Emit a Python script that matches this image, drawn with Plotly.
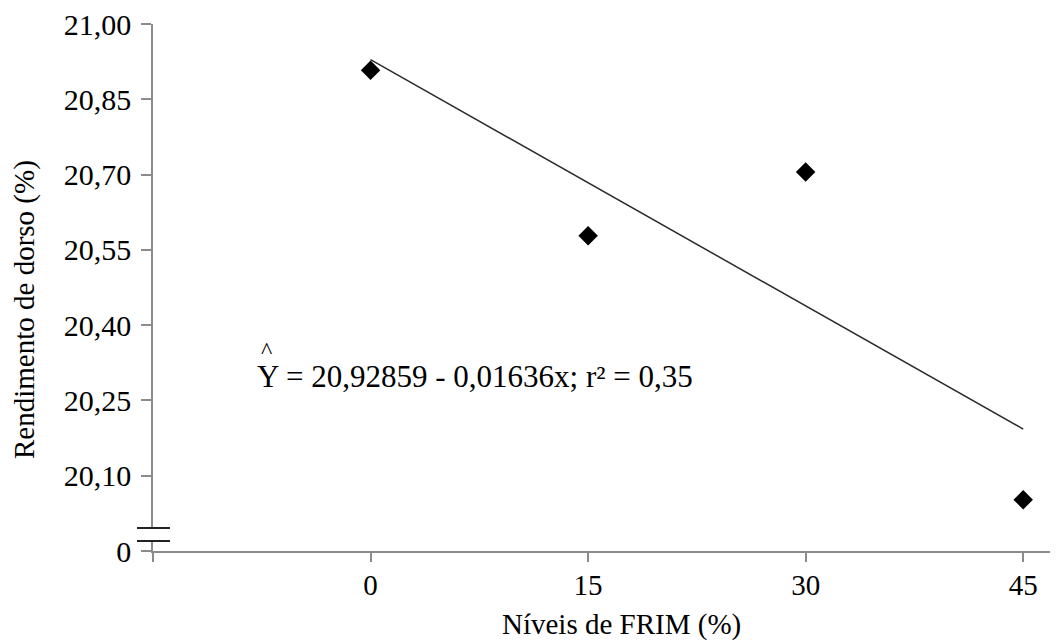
import plotly.graph_objects as go

# Data
niveis = [0, 15, 30, 45]
rendimento = [20.908, 20.578, 20.705, 20.052]
fit_x = [0, 45]
fit_y = [20.929, 20.193]

y_tickvals = [19.95, 20.10, 20.25, 20.40, 20.55, 20.70, 20.85, 21.00]
y_ticktext = ["0", "20,10", "20,25", "20,40", "20,55", "20,70", "20,85", "21,00"]
x_tickvals = [-15, 0, 15, 30, 45]
x_ticktext = ["", "0", "15", "30", "45"]

FONT = "Liberation Serif"
OFF = 8  # page body margin
W, H = 1050, 632
L, R, T, B = 145, 0, 16, 89
pw, ph = W - L - R, H - T - B

def px(xs):  # screen x -> paper
    return (xs - OFF - L) / pw

def py(ys):  # screen y -> paper
    return (H - B - (ys - OFF)) / ph

fig = go.Figure()
fig.add_trace(go.Scatter(x=fit_x, y=fit_y, mode="lines",
                         line=dict(color="#2a2a2a", width=1.5),
                         showlegend=False, hoverinfo="skip"))
fig.add_trace(go.Scatter(x=niveis, y=rendimento, mode="markers",
                         marker=dict(symbol="diamond", size=15, color="black"),
                         showlegend=False))

axis_gray = "#8c8c8c"
fig.update_layout(
    width=W, height=H,
    margin=dict(l=L, r=R, t=T, b=B, pad=0),
    paper_bgcolor="white", plot_bgcolor="white",
    font=dict(family=FONT, size=30, color="black"),
    xaxis=dict(range=[-15, 47.4], tickvals=x_tickvals, ticktext=x_ticktext,
               showgrid=False, zeroline=False, showline=True,
               linecolor=axis_gray, linewidth=1.5,
               ticks="outside", ticklen=9, tickwidth=1.5, tickcolor=axis_gray,
               ticklabelstandoff=-2, ticklabeloverflow="allow",
               tickfont=dict(family=FONT, size=29, color="black")),
    yaxis=dict(range=[19.95, 21.0], tickvals=y_tickvals, ticktext=y_ticktext,
               showgrid=False, zeroline=False, showline=True,
               linecolor=axis_gray, linewidth=1.5,
               ticks="outside", ticklen=10, tickwidth=1.5, tickcolor=axis_gray,
               ticklabelstandoff=4, ticklabeloverflow="allow",
               tickfont=dict(family=FONT, size=30, color="black")),
)

# axis break marks
fig.add_shape(type="rect", xref="paper", yref="paper",
              x0=px(150), x1=px(156), y0=py(540), y1=py(529),
              fillcolor="white", line=dict(width=0), layer="above")
for yb in (528, 541):
    fig.add_shape(type="line", xref="paper", yref="paper",
                  x0=px(137), x1=px(170), y0=py(yb), y1=py(yb),
                  line=dict(color="#222222", width=1.8), layer="above")

# axis titles
fig.add_annotation(text="Níveis de FRIM (%)", xref="paper", yref="paper",
                   x=px(621), y=py(624), xanchor="center", yanchor="middle",
                   showarrow=False, font=dict(family=FONT, size=29, color="black"))
fig.add_annotation(text="Rendimento de dorso (%)", xref="paper", yref="paper",
                   x=px(24), y=py(310), xanchor="center", yanchor="middle",
                   textangle=-90, showarrow=False,
                   font=dict(family=FONT, size=29, color="black"))

# equation
fig.add_annotation(text="Y = 20,92859 - 0,01636x; r² = 0,35", xref="paper", yref="paper",
                   x=px(255), y=py(376), xanchor="left", yanchor="middle",
                   showarrow=False, font=dict(family=FONT, size=31, color="black"))
fig.add_annotation(text="^", xref="paper", yref="paper",
                   x=px(266), y=py(350), xanchor="center", yanchor="middle",
                   showarrow=False, font=dict(family=FONT, size=24, color="black"))

fig.write_html("out.html")
